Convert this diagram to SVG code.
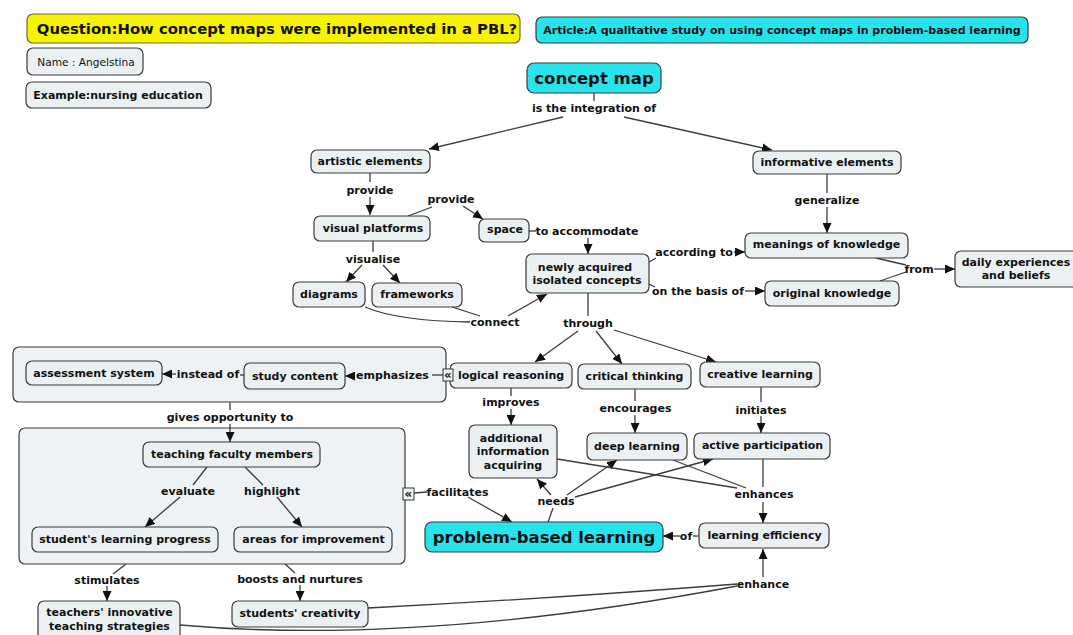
<svg xmlns="http://www.w3.org/2000/svg" width="1073" height="635" viewBox="0 0 1073 635">
  <style>
    .n rect { fill: #ebf1f3; stroke: #3a3a3a; stroke-width: 1.2; }
    .cy rect { fill: #27e4ec; stroke: #3a3a3a; stroke-width: 1.2; }
    .yl rect { fill: #f6f200; stroke: #6a6a3a; stroke-width: 1.2; }
    .grp { fill: #edf2f4; stroke: #3a3a3a; stroke-width: 1.2; }
    text { font-family: "DejaVu Sans", Verdana, sans-serif; font-weight: bold; font-size: 11px; fill: #111; text-anchor: middle; dominant-baseline: central; }
    .big { font-size: 16.5px; }
    .plain { font-weight: normal; font-size: 10.6px; }
    .conn path { fill: none; stroke: #3c3c3c; stroke-width: 1.3; }
    .conn .a { marker-end: url(#ah); }
    .nest rect { fill: #f4f6f6; stroke: #333; stroke-width: 1; }
    .nest text { font-size: 12px; font-weight: bold; }
  </style>
  <defs>
    <marker id="ah" markerWidth="10" markerHeight="9" refX="10" refY="4.5" orient="auto" markerUnits="userSpaceOnUse">
      <path d="M0,0 L10,4.5 L0,9 z" fill="#111"/>
    </marker>
  </defs>
  <rect width="1073" height="635" fill="#ffffff"/>

  <!-- grouping containers -->
  <rect id="group-study" class="grp" x="13" y="347" width="433" height="55" rx="6"/>
  <rect id="group-faculty" class="grp" x="19" y="428" width="386" height="136" rx="6"/>

  <!-- connectors -->
  <g id="connectors" class="conn">
    <path d="M594,93 L594,101"/>
    <path class="a" d="M563,117 L429,149"/>
    <path class="a" d="M624,117 L772,150"/>
    <path d="M370,173 L370,182"/>
    <path class="a" d="M370,197 L370,215"/>
    <path d="M408,216 L432,207"/>
    <path class="a" d="M463,206 L483,219"/>
    <path d="M529,231 L536,231"/>
    <path class="a" d="M588,238 L588,254"/>
    <path d="M373,241 L373,252"/>
    <path class="a" d="M362,265 L346,282"/>
    <path class="a" d="M383,265 L400,283"/>
    <path d="M365,307 Q398,321 470,322"/>
    <path d="M452,307 L480,316"/>
    <path class="a" d="M508,316 L547,294"/>
    <path d="M588,293 L588,316"/>
    <path class="a" d="M578,331 L535,362"/>
    <path class="a" d="M596,331 L622,364"/>
    <path class="a" d="M614,330 L716,362"/>
    <path d="M649,262 L656,258"/>
    <path class="a" d="M734,252 L745,252"/>
    <path d="M649,284 L655,287"/>
    <path class="a" d="M745,291 L765,291"/>
    <path d="M827,174 L827,193"/>
    <path class="a" d="M827,207 L827,233"/>
    <path d="M876,258 L906,265"/>
    <path d="M880,281 L906,272"/>
    <path class="a" d="M934,269 L955,269"/>
    <path d="M511,388 L511,396"/>
    <path class="a" d="M511,409 L511,425"/>
    <path d="M635,389 L635,401"/>
    <path class="a" d="M635,415 L635,433"/>
    <path d="M761,387 L761,402"/>
    <path class="a" d="M761,416 L761,433"/>
    <path d="M443,375 L432,375"/>
    <path class="a" d="M354,376 L345,376"/>
    <path d="M244,375 L240,375"/>
    <path class="a" d="M176,374 L162,374"/>
    <path d="M230,402 L230,410"/>
    <path class="a" d="M230,424 L230,442"/>
    <path d="M207,467 L193,485"/>
    <path class="a" d="M180,497 L145,527"/>
    <path d="M245,467 L263,485"/>
    <path class="a" d="M277,497 L302,527"/>
    <path d="M126,564 L113,574"/>
    <path class="a" d="M107,586 L107,601"/>
    <path d="M285,564 L295,573"/>
    <path class="a" d="M300,585 L300,601"/>
    <path d="M414,493 L427,492"/>
    <path class="a" d="M468,497 L512,522"/>
    <path d="M548,522 L553,508"/>
    <path class="a" d="M551,495 L537,479"/>
    <path class="a" d="M567,495 L617,460"/>
    <path class="a" d="M575,497 L713,459"/>
    <path d="M557,459 L737,488"/>
    <path d="M673,460 L746,488"/>
    <path d="M763,459 L763,487"/>
    <path class="a" d="M763,502 L763,523"/>
    <path d="M699,536 L693,536"/>
    <path class="a" d="M680,536 L663,536"/>
    <path d="M368,608 Q560,598 737,584"/>
    <path d="M180,625 Q420,646 737,586"/>
    <path class="a" d="M763,577 L763,549"/>
  </g>

  <!-- header notes -->
  <g id="question" class="yl"><rect x="27" y="14" width="493" height="29" rx="6"/><text x="277" y="28.5" style="font-size:14.8px">Question:How concept maps were implemented in a PBL?</text></g>
  <g id="article" class="cy"><rect x="536" y="17" width="492" height="26" rx="6"/><text x="782" y="30">Article:A qualitative study on using concept maps in problem-based learning</text></g>
  <g id="name" class="n"><rect x="27" y="48" width="116" height="27" rx="6"/><text class="plain" x="86" y="61.5">Name : Angelstina</text></g>
  <g id="example" class="n"><rect x="26" y="82" width="185" height="26" rx="6"/><text x="118" y="95">Example:nursing education</text></g>

  <!-- concept nodes -->
  <g id="concept-map" class="cy"><rect x="527" y="63" width="134" height="30" rx="7"/><text class="big" x="594" y="78">concept map</text></g>
  <g id="lbl-integration"><text x="594" y="108">is the integration of</text></g>
  <g id="artistic-elements" class="n"><rect x="311" y="150" width="119" height="23" rx="6"/><text x="370" y="161.5">artistic elements</text></g>
  <g id="informative-elements" class="n"><rect x="753" y="151" width="148" height="23" rx="6"/><text x="827" y="162.5">informative elements</text></g>
  <g id="lbl-provide-1"><text x="370" y="190">provide</text></g>
  <g id="lbl-provide-2"><text x="451" y="199">provide</text></g>
  <g id="visual-platforms" class="n"><rect x="314" y="216" width="116" height="25" rx="6"/><text x="373" y="228">visual platforms</text></g>
  <g id="space" class="n"><rect x="479" y="219" width="50" height="23" rx="6"/><text x="505" y="229.5">space</text></g>
  <g id="lbl-accommodate"><text x="587" y="231">to accommodate</text></g>
  <g id="lbl-visualise"><text x="373" y="259">visualise</text></g>
  <g id="diagrams" class="n"><rect x="293" y="282" width="72" height="25" rx="6"/><text x="329" y="294">diagrams</text></g>
  <g id="frameworks" class="n"><rect x="372" y="283" width="90" height="24" rx="6"/><text x="417" y="294.5">frameworks</text></g>
  <g id="newly-acquired" class="n"><rect x="526" y="254" width="123" height="39" rx="6"/><text x="585" y="267">newly acquired</text><text x="587" y="280.5">isolated concepts</text></g>
  <g id="lbl-connect"><text x="495" y="322">connect</text></g>
  <g id="lbl-through"><text x="588" y="323">through</text></g>
  <g id="lbl-according"><text x="694" y="252">according to</text></g>
  <g id="lbl-basis"><text x="698" y="291">on the basis of</text></g>
  <g id="lbl-generalize"><text x="827" y="200">generalize</text></g>
  <g id="meanings-of-knowledge" class="n"><rect x="745" y="233" width="163" height="25" rx="6"/><text x="826.5" y="244.5">meanings of knowledge</text></g>
  <g id="original-knowledge" class="n"><rect x="765" y="281" width="134" height="25" rx="6"/><text x="832" y="293">original knowledge</text></g>
  <g id="lbl-from"><text x="919" y="269">from</text></g>
  <g id="daily-experiences" class="n"><rect x="955" y="251" width="124" height="36" rx="6"/><text x="1016" y="262.5">daily experiences</text><text x="1016" y="275.5">and beliefs</text></g>

  <g id="assessment-system" class="n"><rect x="26" y="361" width="136" height="24" rx="6"/><text x="94" y="373">assessment system</text></g>
  <g id="lbl-instead"><text x="208" y="374.5">instead of</text></g>
  <g id="study-content" class="n"><rect x="244" y="363" width="101" height="26" rx="6"/><text x="295" y="376">study content</text></g>
  <g id="lbl-emphasizes"><text x="392.5" y="375">emphasizes</text></g>
  <g id="lbl-gives"><text x="230" y="417">gives opportunity to</text></g>
  <g id="teaching-faculty" class="n"><rect x="143" y="442" width="177" height="25" rx="6"/><text x="232" y="454">teaching faculty members</text></g>
  <g id="lbl-evaluate"><text x="188" y="491">evaluate</text></g>
  <g id="lbl-highlight"><text x="272" y="491">highlight</text></g>
  <g id="learning-progress" class="n"><rect x="32" y="527" width="186" height="25" rx="6"/><text x="125" y="539">student's learning progress</text></g>
  <g id="areas-improvement" class="n"><rect x="234" y="527" width="158" height="25" rx="6"/><text x="313.5" y="539">areas for improvement</text></g>
  <g id="lbl-stimulates"><text x="107" y="580">stimulates</text></g>
  <g id="lbl-boosts"><text x="300" y="579">boosts and nurtures</text></g>
  <g id="teaching-strategies" class="n"><rect x="38" y="601" width="142" height="42" rx="6"/><text x="109.5" y="612.5">teachers' innovative</text><text x="109.5" y="626">teaching strategies</text></g>
  <g id="students-creativity" class="n"><rect x="232" y="601" width="136" height="26" rx="6"/><text x="300" y="613.5">students' creativity</text></g>

  <g id="logical-reasoning" class="n"><rect x="450" y="363" width="122" height="25" rx="6"/><text x="511" y="375">logical reasoning</text></g>
  <g id="critical-thinking" class="n"><rect x="578" y="364" width="113" height="25" rx="6"/><text x="634.5" y="376">critical thinking</text></g>
  <g id="creative-learning" class="n"><rect x="700" y="362" width="120" height="25" rx="6"/><text x="760" y="374">creative learning</text></g>
  <g id="lbl-improves"><text x="511" y="402">improves</text></g>
  <g id="lbl-encourages"><text x="635.5" y="408">encourages</text></g>
  <g id="lbl-initiates"><text x="761" y="410">initiates</text></g>
  <g id="additional-information" class="n"><rect x="469" y="425" width="88" height="53" rx="6"/><text x="511" y="438">additional</text><text x="513" y="451.5">information</text><text x="513" y="465">acquiring</text></g>
  <g id="deep-learning" class="n"><rect x="587" y="433" width="100" height="27" rx="6"/><text x="637" y="446">deep learning</text></g>
  <g id="active-participation" class="n"><rect x="694" y="433" width="136" height="26" rx="6"/><text x="762.5" y="445.5">active participation</text></g>
  <g id="lbl-needs"><text x="556" y="501">needs</text></g>
  <g id="lbl-enhances"><text x="764" y="494">enhances</text></g>
  <g id="lbl-facilitates"><text x="457.5" y="492">facilitates</text></g>
  <g id="problem-based-learning" class="cy"><rect x="425" y="522" width="238" height="30" rx="7"/><text class="big" x="544" y="537">problem-based learning</text></g>
  <g id="lbl-of"><text x="686" y="536">of</text></g>
  <g id="learning-efficiency" class="n"><rect x="699" y="523" width="130" height="25" rx="6"/><text x="764.5" y="535">learning efficiency</text></g>
  <g id="lbl-enhance"><text x="763" y="584">enhance</text></g>

  <!-- nested-link indicators -->
  <g id="nest-logical" class="nest"><rect x="443" y="369" width="10" height="12"/><text x="448" y="374.5">«</text></g>
  <g id="nest-faculty" class="nest"><rect x="403" y="488" width="11" height="12"/><text x="408.5" y="493.5">«</text></g>
</svg>
